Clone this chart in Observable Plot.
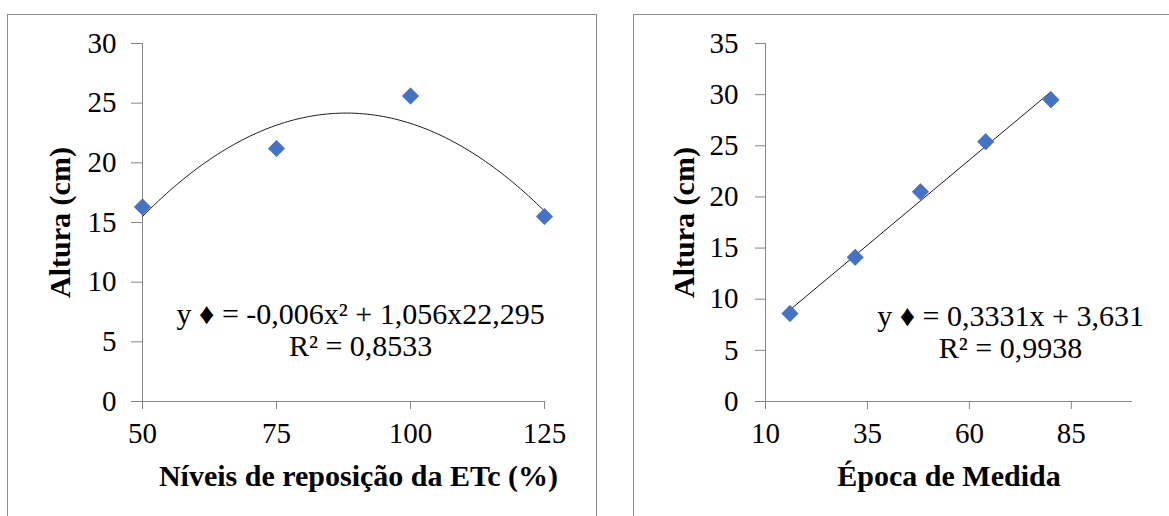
<!DOCTYPE html>
<html>
<head>
<meta charset="utf-8">
<script src="https://cdn.jsdelivr.net/npm/d3@7"></script>
<script src="https://cdn.jsdelivr.net/npm/@observablehq/plot@0.6"></script>
<style>
  body { margin: 0; background: #fff; width: 1169px; height: 516px; overflow: hidden; position: relative; font-family: "Liberation Serif", serif; }
  .panel { position: absolute; border: 1.5px solid #8c8c8c; box-sizing: border-box; }
  .chart { position: absolute; top: 0; }
</style>
</head>
<body>
<div class="panel" style="left:7px; top:14px; width:590px; height:620px;"></div>
<div class="panel" style="left:633px; top:14px; width:620px; height:620px;"></div>
<div id="left" class="chart" style="left:0px;"></div>
<div id="right" class="chart" style="left:600px;"></div>
<script>
// Plant height vs. ETc replacement level
const niveis = [50, 75, 100, 125];
const alturaNiveis = [16.3, 21.2, 25.6, 15.5];
// Plant height vs. measurement time
const epocas = [16, 32, 48, 64, 80];
const alturaEpoca = [8.6, 14.1, 20.5, 25.4, 29.5];

// Trend line coefficients as printed on each panel
const quadCoef = { a: -0.006, b: 1.056, c: -22.295 };
const linCoef = { m: 0.3331, c: 3.631 };

const ticksNiveis = [50, 75, 100, 125];
const ticksAlturaA = [0, 5, 10, 15, 20, 25, 30];
const ticksEpoca = [10, 35, 60, 85];
const ticksAlturaB = [0, 5, 10, 15, 20, 25, 30, 35];

const eqLeft = "y \u2666 = -0,006x\u00B2 + 1,056x22,295\nR\u00B2 = 0,8533";
const eqRight = "y \u2666 = 0,3331x + 3,631\nR\u00B2 = 0,9938";

const blue = "#4472C4";
const axisGray = "#868686";
const font = "Liberation Serif";
const tickFont = 29;
const titleFont = 30;
const eqFont = 30;

const ptsA = niveis.map((x, i) => ({ x, y: alturaNiveis[i] }));
const ptsB = epocas.map((x, i) => ({ x, y: alturaEpoca[i] }));

const curveA = d3.range(niveis[0], niveis[niveis.length - 1] + 0.001, 0.5)
  .map(x => ({ x, y: quadCoef.a * x * x + quadCoef.b * x + quadCoef.c }));
const lineB = [epocas[0], epocas[epocas.length - 1]]
  .map(x => ({ x, y: linCoef.m * x + linCoef.c }));

const yTitle = (dx) => Plot.text(["Altura (cm)"], {
  frameAnchor: "left", textAnchor: "middle", lineAnchor: "middle", dx, rotate: -90,
  text: d => d, fontWeight: "bold", fontSize: titleFont, fill: "black"
});
const xTitle = (label, dx) => Plot.text([label], {
  frameAnchor: "bottom", textAnchor: "middle", lineAnchor: "middle", dx, dy: 75,
  text: d => d, fontWeight: "bold", fontSize: titleFont, fill: "black"
});

const left = Plot.plot({
  width: 600, height: 516,
  marginLeft: 142, marginRight: 56, marginTop: 43, marginBottom: 115,
  style: { fontFamily: font, background: "transparent", overflow: "visible", color: "black" },
  x: { domain: [50, 125] },
  y: { domain: [0, 30] },
  marks: [
    Plot.ruleY([0], { stroke: axisGray }),
    Plot.ruleX([50], { stroke: axisGray }),
    Plot.axisX(ticksNiveis, { tickSize: 8, tickPadding: 13, stroke: axisGray, fill: "black", fontSize: tickFont, label: null }),
    Plot.axisY(ticksAlturaA, { tickSize: 11, tickPadding: 15, stroke: axisGray, fill: "black", fontSize: tickFont, label: null }),
    Plot.line(curveA, { x: "x", y: "y", stroke: "#1a1a1a", strokeWidth: 1 }),
    Plot.dot(ptsA, { x: "x", y: "y", symbol: "diamond2", r: 7.4, fill: blue, stroke: "#3b65b3", strokeWidth: 0.6 }),
    Plot.text([eqLeft], { x: 90.7, y: 6.0, text: d => d, fontSize: eqFont, lineHeight: 1.05, fill: "black" }),
    yTitle(-82),
    xTitle("Níveis de reposição da ETc (%)", 15)
  ]
});
document.getElementById("left").append(left);

const right = Plot.plot({
  width: 569, height: 516,
  marginLeft: 165, marginRight: 37, marginTop: 43, marginBottom: 115,
  style: { fontFamily: font, background: "transparent", overflow: "visible", color: "black" },
  x: { domain: [10, 100] },
  y: { domain: [0, 35] },
  marks: [
    Plot.ruleY([0], { stroke: axisGray }),
    Plot.ruleX([10], { stroke: axisGray }),
    Plot.axisX(ticksEpoca, { tickSize: 8, tickPadding: 13, stroke: axisGray, fill: "black", fontSize: tickFont, label: null }),
    Plot.axisY(ticksAlturaB, { tickSize: 10, tickPadding: 17, stroke: axisGray, fill: "black", fontSize: tickFont, label: null }),
    Plot.line(lineB, { x: "x", y: "y", stroke: "#1a1a1a", strokeWidth: 1 }),
    Plot.dot(ptsB, { x: "x", y: "y", symbol: "diamond2", r: 7.4, fill: blue, stroke: "#3b65b3", strokeWidth: 0.6 }),
    Plot.text([eqRight], { x: 70.1, y: 6.8, text: d => d, fontSize: eqFont, lineHeight: 1.05, fill: "black" }),
    yTitle(-81),
    xTitle("Época de Medida", 0)
  ]
});
document.getElementById("right").append(right);
</script>
</body>
</html>
